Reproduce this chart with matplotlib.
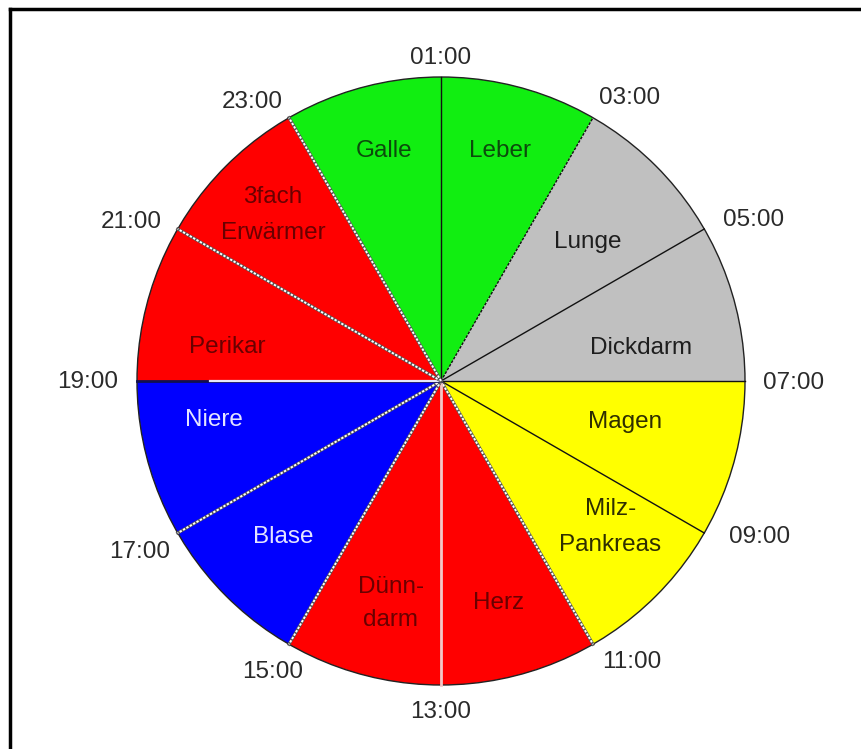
import numpy as np
import matplotlib
matplotlib.use("Agg")
import matplotlib.pyplot as plt

plt.rcParams['font.family'] = ['Liberation Sans', 'DejaVu Sans']

# ---- data ----
organs = ["Leber", "Lunge", "Dickdarm", "Magen", "Milz-\nPankreas", "Herz",
          "Dünn-\ndarm", "Blase", "Niere", "Perikar", "3fach\nErwärmer", "Galle"]
hours = [2, 2, 2, 2, 2, 2, 2, 2, 2, 2, 2, 2]
times = ["01:00", "03:00", "05:00", "07:00", "09:00", "11:00",
         "13:00", "15:00", "17:00", "19:00", "21:00", "23:00"]

# ---- styles / layout ----
slice_colors = ["#11ee11", "#c0c0c0", "#c0c0c0", "#ffff00", "#ffff00", "#ff0000",
                "#ff0000", "#0000ff", "#0000ff", "#ff0000", "#ff0000", "#11ee11"]
text_colors = ["#0c4a0c", "#1e1e1e", "#1e1e1e", "#2e2e00", "#2e2e00", "#6a0000",
               "#6a0000", "#e4e4ff", "#e4e4ff", "#6a0000", "#6a0000", "#0c4a0c"]
boundary_style = ['k', 'kd', 'k', 'k', 'k', 'w', 'ws', 'w', 'w', 'wh', 'w', 'w']
# time label offsets from the rim point (pixels, right / down)
time_offsets = [(0, -19), (37, -20), (49, -9), (49, 2), (55, 4), (39, 18),
                (0, 27), (-16, 28), (-38, 19), (-49, 1), (-46, -7), (-37, -16)]
# organ label placement: radius fraction and angular shift (deg) from wedge middle
label_rfrac = [0.78, 0.665, 0.667, 0.62, 0.735, 0.755, 0.75, 0.73, 0.757, 0.713, 0.777, 0.78]
label_dang = [0.7, -1.6, -5.6, 2.5, 4.2, -0.4, 2.3, -0.2, -5.3, 6.0, 0.3, -1.1]
label_linespacing = [1.5, 1.5, 1.5, 1.5, 1.85, 1.5, 1.6, 1.5, 1.5, 1.5, 1.85, 1.5]

W, H = 861, 749
fig = plt.figure(figsize=(W / 100, H / 100), dpi=100)
ax = fig.add_axes([0, 0, 1, 1])

cx, cy, R = 441, H - 381, 304

wedges, _ = ax.pie(hours, colors=slice_colors, startangle=90, counterclock=False,
                   center=(cx, cy), radius=R, frame=True,
                   wedgeprops=dict(edgecolor='none', linewidth=0))
ax.set_xlim(0, W)
ax.set_ylim(0, H)
ax.set_aspect('auto')
ax.axis('off')

circ = plt.Circle((cx, cy), R, fill=False, edgecolor='#222222', linewidth=1.0)
ax.add_patch(circ)

total = sum(hours)
acc = 0
for i, (lab, h) in enumerate(zip(times, hours)):
    th = np.deg2rad(90.0 - 360.0 * acc / total)
    x1, y1 = cx + R * np.cos(th), cy + R * np.sin(th)
    st = boundary_style[i]
    if st == 'k':
        ax.plot([cx, x1], [cy, y1], color='#111111', lw=1.0)
    elif st == 'kd':
        ax.plot([cx, x1], [cy, y1], color='#111111', lw=1.0, ls=(0, (2, 1)))
    elif st == 'ws':
        ax.plot([cx, x1], [cy, y1], color='#f2c8c8', lw=2.0)
    elif st == 'wh':
        ax.plot([cx, x1], [cy, y1], color='#101050', lw=2.0)
        xm, ym = cx + 0.76 * R * np.cos(th), cy + 0.76 * R * np.sin(th)
        ax.plot([cx, xm], [cy, ym], color='#e8e8f8', lw=1.6)
    else:
        ax.plot([cx, x1], [cy, y1], color='#555555', lw=2.2)
        ax.plot([cx, x1], [cy, y1], color='white', lw=1.4, ls=(0, (1.2, 0.8)))
    ox, oy = time_offsets[i]
    ax.text(x1 + ox, y1 - oy, lab, ha='center', va='center',
            fontsize=17.5, color='#2a2a2a')
    acc += h

for w, lab, tc, rf, da, ls in zip(wedges, organs, text_colors, label_rfrac,
                                  label_dang, label_linespacing):
    mid = np.deg2rad((w.theta1 + w.theta2) / 2 + da)
    r = rf * R
    ax.text(cx + r * np.cos(mid), cy + r * np.sin(mid), lab, ha='center', va='center',
            fontsize=17.5, color=tc, linespacing=ls)

ax.plot([10, 10], [0, H - 9], color='black', lw=2.5, solid_capstyle='projecting')
ax.plot([10, W], [H - 9, H - 9], color='black', lw=2.5, solid_capstyle='projecting')

fig.savefig("out.png", dpi=100)
